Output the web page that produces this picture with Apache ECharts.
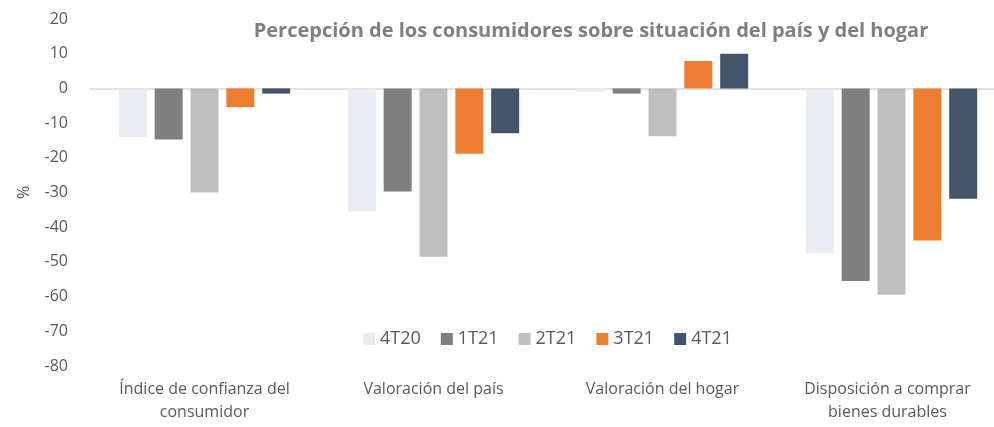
<!DOCTYPE html>
<html>
<head>
<meta charset="utf-8">
<script src="https://cdn.jsdelivr.net/npm/echarts@6/dist/echarts.min.js"></script>
<style>
  html, body { margin: 0; padding: 0; background: #fff; }
  #chart { width: 994px; height: 427px; }
</style>
</head>
<body>
<div id="chart"></div>
<script>
const categories = [
  "Índice de confianza del\nconsumidor",
  "Valoración del país",
  "Valoración del hogar",
  "Disposición a comprar\nbienes durables"
];
const seriesNames = ["4T20", "1T21", "2T21", "3T21", "4T21"];
const values4T20 = [-14, -35.5, -1, -47.5];
const values1T21 = [-14.7, -29.7, -1.5, -55.5];
const values2T21 = [-30, -48.5, -13.8, -59.5];
const values3T21 = [-5.4, -18.8, 7.9, -43.8];
const values4T21 = [-1.5, -12.9, 10, -31.8];
const yTicks = { min: -80, max: 20, step: 10 };

const colors = ["#E9ECF1", "#7F7F7F", "#BFBFBF", "#ED7D31", "#44546A"];
const allValues = [values4T20, values1T21, values2T21, values3T21, values4T21];
const font = "'Open Sans', 'Noto Sans', sans-serif";

const chart = echarts.init(document.getElementById("chart"));

chart.setOption({
  animation: false,
  title: {
    text: "Percepción de los consumidores sobre situación del país y del hogar",
    left: 586,
    top: 16,
    textAlign: "center",
    textStyle: {
      color: "#7F7F7F",
      fontSize: 20,
      fontWeight: "bold",
      fontFamily: font,
    },
  },
  legend: {
    data: seriesNames,
    left: 358,
    top: 325,
    itemWidth: 12,
    itemHeight: 12,
    itemGap: 20,
    icon: "rect",
    textStyle: { color: "#595959", fontSize: 18, fontFamily: font },
  },
  grid: {
    left: 90,
    top: 19,
    width: 916,
    height: 347,
    outerBoundsMode: "none",
  },
  xAxis: {
    type: "category",
    data: categories.map((c, i) =>
      i === 3 ? { value: c, textStyle: { padding: [0, 8, 0, 0] } } : c
    ),
    axisTick: { show: false },
    axisLine: { onZero: true, lineStyle: { color: "#D9D9D9", width: 1.5 } },
    axisLabel: {
      color: "#595959",
      fontSize: 16,
      fontFamily: font,
      margin: 12,
      lineHeight: 23,
      interval: 0,
    },
  },
  yAxis: {
    type: "value",
    name: "%",
    nameLocation: "middle",
    nameGap: 58,
    nameRotate: 90,
    nameTextStyle: { color: "#595959", fontSize: 16, fontFamily: font },
    min: yTicks.min,
    max: yTicks.max,
    interval: yTicks.step,
    axisLine: { show: false },
    axisTick: { show: false },
    splitLine: { show: false },
    axisLabel: {
      color: "#595959",
      fontSize: 16,
      fontFamily: font,
      margin: 22,
    },
  },
  series: seriesNames.map((name, i) => ({
    name: name,
    type: "bar",
    data: allValues[i],
    barWidth: 28,
    barGap: "28%",
    itemStyle: { color: colors[i] },
  })),
});
</script>
</body>
</html>
